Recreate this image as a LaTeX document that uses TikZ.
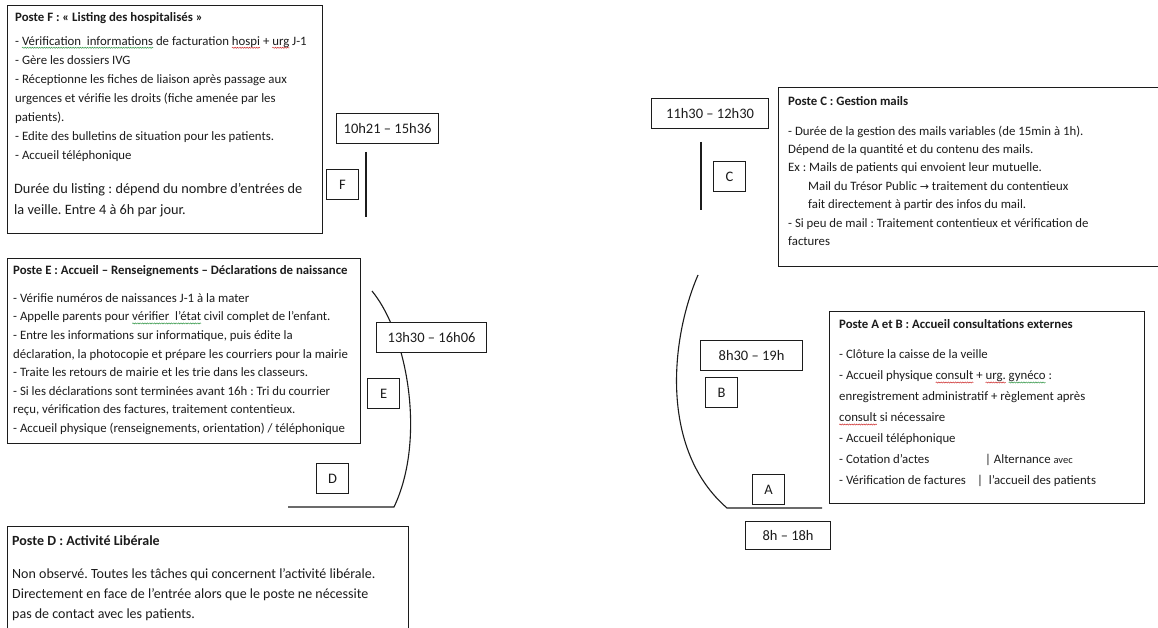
\documentclass[tikz,border=0pt]{standalone}
\usepackage{fontspec}
\setmainfont{Carlito}
\newfontfamily\arrowfont{DejaVu Sans}
\usetikzlibrary{decorations.pathmorphing}

\definecolor{ink}{RGB}{28,28,28}
\definecolor{spellred}{RGB}{205,45,45}
\definecolor{gramgreen}{RGB}{50,150,70}

% wavy proofing underline in a given colour under a word
\newdimen\wavylen
\newcommand\wavy[2]{\setbox0\hbox{#2}\wavylen=\wd0\leavevmode
  \tikz[baseline=0pt, overlay]\draw[#1, line width=0.5pt, decorate,
    decoration={snake, amplitude=0.55pt, segment length=2.4pt}] (0pt,-2.6pt) -- (\wavylen,-2.6pt);\box0\relax}
\newcommand\fsz[2]{\fontsize{#1}{#2}\selectfont}

\begin{document}
\frenchspacing
\begin{tikzpicture}[x=1pt,y=-1pt,
  panel/.style={draw=ink, line width=1.2pt, anchor=north west, inner sep=0pt},
  para/.style={anchor=north west, inner sep=0pt, align=left, text=ink},
  slot/.style={draw=ink, fill=white, line width=1.1pt, anchor=north west, minimum height=30pt,
               inner sep=0pt, font=\fsz{14.5}{16}, text=ink},
  tag/.style={draw=ink, fill=white, line width=1.1pt, anchor=north west, minimum width=32pt,
              minimum height=30pt, inner sep=0pt, font=\fsz{14.5}{16}, text=ink},
  wall/.style={draw=ink, line width=1.1pt},
]
\useasboundingbox[fill=white] (0,0) rectangle (1158,628);

% ---------- walls of the reception desks ----------
\coordinate (fTop) at (366,152);  \coordinate (fBot) at (366,217);
\coordinate (cTop) at (701,142);  \coordinate (cBot) at (701,210);
\coordinate (eTop) at (372,291);  \coordinate (eBot) at (394,507);  \coordinate (dEnd) at (288,507);
\coordinate (bTop) at (698,275);  \coordinate (aBot) at (727,508);  \coordinate (aEnd) at (822,508);
\draw[wall] (fTop) -- (fBot);
\draw[wall] (cTop) -- (cBot);
\draw[wall] (dEnd) -- (eBot) .. controls (426,440) and (408,335) .. (eTop);
\draw[wall] (bTop) .. controls (670,340) and (660,450) .. (aBot) -- (aEnd);

% ---------- Poste F ----------
\node[panel, minimum width=315pt, minimum height=228pt] (boxF) at (7,5) {};
\node[para, font=\fsz{12.8}{19.1}] (txtF) at (15,7.6) {\strut\textbf{Poste F : « Listing des hospitalisés »}\\[4.9pt]
- \wavy{gramgreen}{Vérification\ \ informations} de facturation \wavy{spellred}{hospi} + \wavy{spellred}{urg} J-1\\
- Gère les dossiers IVG\\
- Réceptionne les fiches de liaison après passage aux\\
urgences et vérifie les droits (fiche amenée par les\\
patients).\\
- Edite des bulletins de situation pour les patients.\\
- Accueil téléphonique};
\node[para, font=\fsz{14.3}{21}] (durF) at (14,179) {\strut Durée du listing : dépend du nombre d’entrées de\\
la veille. Entre 4 à 6h par jour.};

% ---------- Poste E ----------
\node[panel, minimum width=353pt, minimum height=185pt] (boxE) at (7,258) {};
\node[para, font=\fsz{12.8}{18.6}] (txtE) at (13,261) {\strut\textbf{Poste E : Accueil – Renseignements – Déclarations de naissance}\\[9.4pt]
- Vérifie numéros de naissances J-1 à la mater\\
- Appelle parents pour \wavy{gramgreen}{vérifier\ \ l’état} civil complet de l’enfant.\\
- Entre les informations sur informatique, puis édite la\\
déclaration, la photocopie et prépare les courriers pour la mairie\\
- Traite les retours de mairie et les trie dans les classeurs.\\
- Si les déclarations sont terminées avant 16h : Tri du courrier\\
reçu, vérification des factures, traitement contentieux.\\
- Accueil physique (renseignements, orientation) / téléphonique};

% ---------- Poste D ----------
\node[panel, minimum width=401pt, minimum height=130pt] (boxD) at (7,526) {};
\node[para, font=\fsz{14}{20}] (txtD) at (12,531) {\strut\textbf{Poste D : Activité Libérale}\\[13pt]
Non observé. Toutes les tâches qui concernent l’activité libérale.\\
Directement en face de l’entrée alors que le poste ne nécessite\\
pas de contact avec les patients.};

% ---------- Poste C ----------
\node[panel, minimum width=400pt, minimum height=179pt] (boxC) at (778,87) {};
\node[para, font=\fsz{12.8}{18.4}] (txtC) at (788,92) {\strut\textbf{Poste C : Gestion mails}\\[11.6pt]
- Durée de la gestion des mails variables (de 15min à 1h).\\
Dépend de la quantité et du contenu des mails.\\
Ex : Mails de patients qui envoient leur mutuelle.\\
\hspace*{20pt}Mail du Trésor Public {\arrowfont\fontsize{11}{12}\selectfont →} traitement du contentieux\\
\hspace*{20pt}fait directement à partir des infos du mail.\\
- Si peu de mail : Traitement contentieux et vérification de\\
factures};

% ---------- Postes A et B ----------
\node[panel, minimum width=315pt, minimum height=192pt] (boxAB) at (829,311) {};
\node[para, font=\fsz{12.8}{21}] (txtAB) at (839,314) {\strut\textbf{Poste A et B : Accueil consultations externes}\\[9pt]
- Clôture la caisse de la veille\\
- Accueil physique \wavy{spellred}{consult} + \wavy{spellred}{urg.} \wavy{gramgreen}{gynéco} :\\
enregistrement administratif + règlement après\\
\wavy{spellred}{consult} si nécessaire\\
- Accueil téléphonique\\
\makebox[146pt][l]{- Cotation d’actes}| Alternance {\fsz{10.5}{12}avec}\\
\makebox[138pt][l]{- Vérification de factures}| \ l’accueil des patients};

% ---------- time slots ----------
\node[slot, minimum width=102pt] (slotF) at (336,113) {10h21 – 15h36};
\node[slot, minimum width=110pt] (slotE) at (376,322) {13h30 – 16h06};
\node[slot, minimum width=117pt] (slotC) at (651,98) {11h30 – 12h30};
\node[slot, minimum width=102pt] (slotB) at (700,340) {8h30 – 19h};
\node[slot, minimum width=85pt, minimum height=28pt] (slotA) at (745,521) {8h – 18h};

% ---------- desk letters ----------
\node[tag] (tagF) at (326,169) {F};
\node[tag] (tagE) at (367,378) {E};
\node[tag] (tagD) at (316,463) {D};
\node[tag] (tagC) at (713,161) {C};
\node[tag] (tagB) at (705,377) {B};
\node[tag] (tagA) at (752,474) {A};
\end{tikzpicture}
\end{document}
